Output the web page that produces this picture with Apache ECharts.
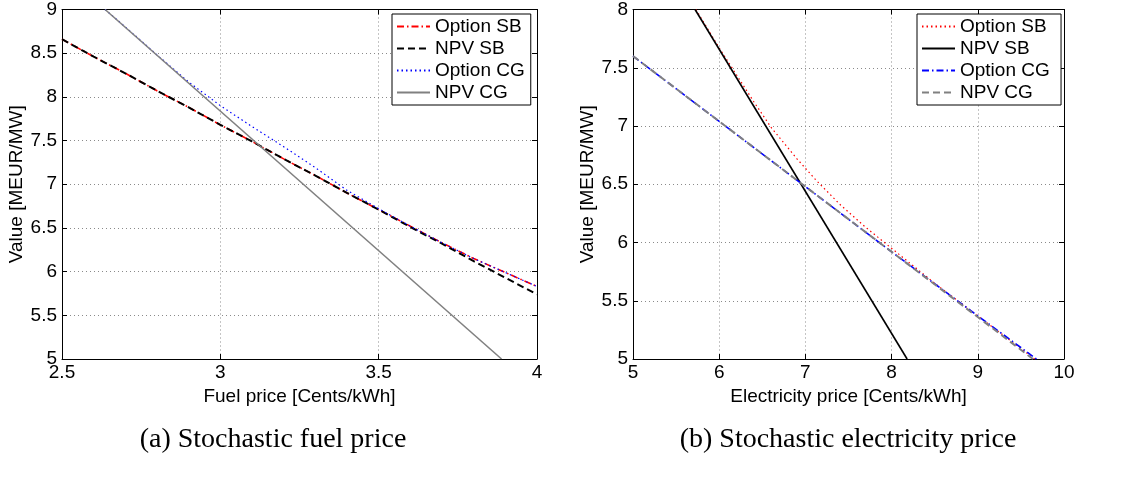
<!DOCTYPE html>
<html><head><meta charset="utf-8">
<script src="https://cdn.jsdelivr.net/npm/echarts@6/dist/echarts.min.js"></script>
<style>html,body{margin:0;padding:0;background:#fff}#c{width:1135px;height:479px}</style>
</head><body><div id="c"></div>
<script>
// ---------- (a) Stochastic fuel price ----------
const fuelPrice      = [2.5, 2.6, 2.7, 2.8, 2.9, 3.0, 3.1, 3.2, 3.3, 3.4, 3.5, 3.6, 3.7, 3.8, 3.9, 4.0];
const fuelNpvSB      = [8.66, 8.46, 8.27, 8.07, 7.88, 7.68, 7.49, 7.29, 7.10, 6.90, 6.71, 6.51, 6.32, 6.12, 5.93, 5.74];
const fuelOptionSB   = [8.66, 8.46, 8.27, 8.07, 7.88, 7.68, 7.49, 7.29, 7.10, 6.90, 6.71, 6.52, 6.33, 6.15, 5.99, 5.83];
const fuelPriceOptCG = [2.636, 2.7, 2.8, 2.9, 3.0, 3.1, 3.2, 3.3, 3.4, 3.5, 3.6, 3.7, 3.8, 3.9, 4.0];
const fuelOptionCG   = [9.0, 8.80, 8.48, 8.17, 7.90, 7.66, 7.43, 7.19, 6.93, 6.72, 6.52, 6.33, 6.15, 5.99, 5.83];
const fuelPriceNpvCG = [2.636, 3.888];
const fuelNpvCG      = [9.0, 5.0];

// ---------- (b) Stochastic electricity price ----------
const elecPriceNpvSB = [5.72, 8.18];
const elecNpvSB      = [8.0, 5.0];
const elecPriceOptSB = [5.73, 6.0, 6.4, 6.6, 6.9, 7.13, 7.41, 7.7, 8.0, 8.3, 8.5, 9.0, 9.5, 9.66];
const elecOptionSB   = [8.0, 7.67, 7.21, 6.99, 6.72, 6.53, 6.32, 6.13, 5.95, 5.77, 5.65, 5.37, 5.09, 5.0];
const elecPriceOptCG = [5, 6, 7, 8, 9, 9.68];
const elecOptionCG   = [7.60, 7.04, 6.48, 5.92, 5.37, 5.00];
const elecPriceNpvCG = [5, 6, 7, 8, 9, 9.64];
const elecNpvCG      = [7.60, 7.04, 6.48, 5.92, 5.36, 5.00];

const legendNamesA = ['Option SB', 'NPV SB', 'Option CG', 'NPV CG'];
const legendNamesB = ['Option SB ', 'NPV SB ', 'Option CG ', 'NPV CG '];
const xTitleA = 'Fuel price [Cents/kWh]';
const xTitleB = 'Electricity price [Cents/kWh]';
const yTitle = 'Value [MEUR/MW]';
const captionA = '(a) Stochastic fuel price';
const captionB = '(b) Stochastic electricity price';

const FONT = "'Liberation Sans', Arial, Helvetica, sans-serif";
const SERIF = "'Liberation Serif', 'DejaVu Serif', serif";
function pairs(xs, ys) { return xs.map((x, i) => [x, ys[i]]); }

const gridStyle = { show: true, lineStyle: { color: '#8a8a8a', type: [1, 3], width: 1 } };
const lineAx = { show: true, onZero: false, lineStyle: { color: '#000', width: 1 } };
const tickAx = { show: true, inside: true, length: 5, lineStyle: { color: '#000', width: 1 } };
const lbl = { show: true, fontSize: 19, color: '#000', fontFamily: FONT };

function xAxes(gi, min, max, interval, name) {
  return [
    { gridIndex: gi, type: 'value', min, max, interval, position: 'bottom',
      axisLine: lineAx, axisTick: tickAx, axisLabel: Object.assign({ margin: 4 }, lbl),
      splitLine: gridStyle, name, nameLocation: 'middle', nameGap: 22,
      nameTextStyle: { fontSize: 19, color: '#000', fontFamily: FONT } },
    { gridIndex: gi, type: 'value', min, max, interval, position: 'top',
      axisLine: lineAx, axisTick: tickAx, axisLabel: { show: false }, splitLine: { show: false } }
  ];
}
function yAxes(gi, min, max, interval, name) {
  return [
    { gridIndex: gi, type: 'value', min, max, interval, position: 'left',
      axisLine: lineAx, axisTick: tickAx, axisLabel: Object.assign({ margin: 5 }, lbl),
      splitLine: gridStyle, name, nameLocation: 'middle', nameGap: 33,
      nameTextStyle: { fontSize: 19, color: '#000', fontFamily: FONT } },
    { gridIndex: gi, type: 'value', min, max, interval, position: 'right',
      axisLine: lineAx, axisTick: tickAx, axisLabel: { show: false }, splitLine: { show: false } }
  ];
}
function ser(name, xi, yi, data, color, width, type) {
  return { name, type: 'line', xAxisIndex: xi, yAxisIndex: yi, data, symbol: 'none',
    showSymbol: false, silent: true, animation: false, clip: true,
    lineStyle: { color, width, type }, itemStyle: { color } };
}
function legend(left, names) {
  return { orient: 'vertical', left, top: 14, padding: [3, 6, 3, 4], itemWidth: 33, itemHeight: 14,
    itemGap: 3, backgroundColor: '#fff', borderColor: '#000', borderWidth: 1, borderRadius: 0,
    selectedMode: false, data: names,
    itemStyle: { opacity: 0, borderWidth: 0 },
    textStyle: { fontSize: 19, lineHeight: 19, color: '#000', fontFamily: FONT } };
}

const DASHDOT = [7, 3, 1.5, 3];
const DASH = [7, 4];
const DOT = [1.5, 3];

const option = {
  backgroundColor: '#fff',
  animation: false,
  grid: [
    { left: 62, top: 7, width: 475, height: 352 },
    { left: 633, top: 7, width: 431, height: 352 }
  ],
  xAxis: [...xAxes(0, 2.5, 4, 0.5, xTitleA), ...xAxes(1, 5, 10, 1, xTitleB)],
  yAxis: [...yAxes(0, 5, 9, 0.5, yTitle), ...yAxes(1, 5, 8, 0.5, yTitle)],
  legend: [legend(392, legendNamesA), legend(917, legendNamesB)],
  series: [
    ser(legendNamesA[0], 0, 0, pairs(fuelPrice, fuelOptionSB), '#ff0000', 1.6, DASHDOT),
    ser(legendNamesA[1], 0, 0, pairs(fuelPrice, fuelNpvSB), '#000000', 2, DASH),
    ser(legendNamesA[2], 0, 0, pairs(fuelPriceOptCG, fuelOptionCG), '#0000ff', 1.2, DOT),
    ser(legendNamesA[3], 0, 0, pairs(fuelPriceNpvCG, fuelNpvCG), '#808080', 1.6, 'solid'),
    ser(legendNamesB[0], 2, 2, pairs(elecPriceOptSB, elecOptionSB), '#ff0000', 1.2, DOT),
    ser(legendNamesB[1], 2, 2, pairs(elecPriceNpvSB, elecNpvSB), '#000000', 1.6, 'solid'),
    ser(legendNamesB[2], 2, 2, pairs(elecPriceOptCG, elecOptionCG), '#0000ff', 1.6, DASHDOT),
    ser(legendNamesB[3], 2, 2, pairs(elecPriceNpvCG, elecNpvCG), '#808080', 2, DASH)
  ],
  graphic: [
    { type: 'text', x: 273, y: 440, silent: true,
      style: { text: captionA, font: '28px ' + SERIF, fill: '#000', align: 'center', verticalAlign: 'middle' } },
    { type: 'text', x: 848, y: 440, silent: true,
      style: { text: captionB, font: '28px ' + SERIF, fill: '#000', align: 'center', verticalAlign: 'middle' } }
  ]
};
const chart = echarts.init(document.getElementById('c'), null, { renderer: 'canvas' });
chart.setOption(option);
</script></body></html>
